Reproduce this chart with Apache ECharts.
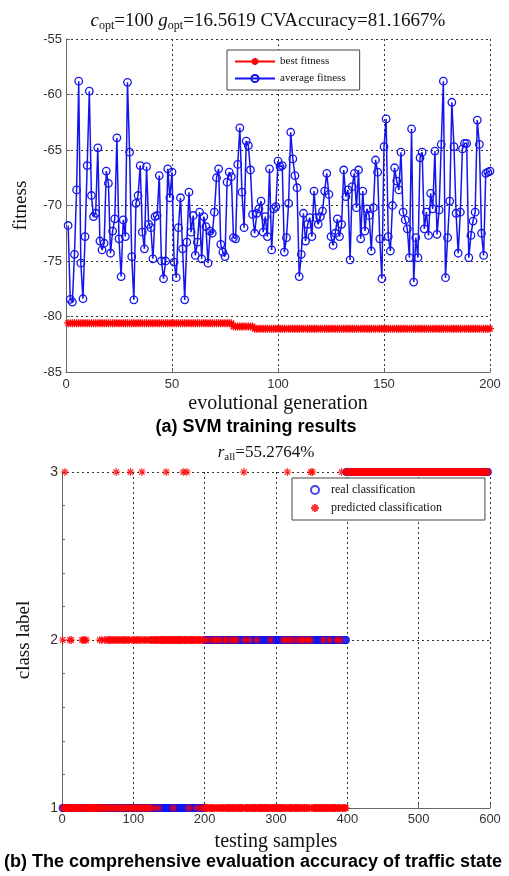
<!DOCTYPE html>
<html>
<head>
<meta charset="utf-8">
<script src="https://cdn.jsdelivr.net/npm/echarts@6/dist/echarts.min.js"></script>
<style>
html,body{margin:0;padding:0;background:#fff;}
#chart{width:509px;height:876px;}
</style>
</head>
<body>
<div id="chart"></div>
<script>
// ---------- DATA ----------
// (a) average fitness per generation 1..200
const avgFitness = [
-71.8,-78.45,-78.7,-74.4,-68.6,-58.8,-75.2,-78.4,-72.8,-66.4,
-59.7,-69.1,-71.0,-70.7,-64.8,-73.2,-74.0,-73.4,-66.9,-68.0,
-74.3,-72.3,-71.2,-63.9,-73.0,-76.4,-71.3,-72.8,-58.9,-65.2,
-74.6,-78.5,-69.8,-69.1,-66.4,-72.4,-73.9,-66.5,-71.7,-72.0,
-74.8,-71.0,-70.9,-67.3,-75.0,-76.6,-75.0,-66.7,-69.3,-67.0,
-75.1,-76.5,-72.0,-69.3,-73.9,-78.5,-73.3,-68.8,-72.4,-70.9,
-74.5,-73.3,-70.6,-74.8,-71.0,-71.9,-75.2,-72.3,-72.5,-70.6,
-67.5,-66.7,-73.5,-74.2,-74.6,-67.9,-67.0,-67.4,-72.9,-73.0,
-66.3,-63.0,-68.8,-72.0,-64.2,-64.6,-66.8,-70.8,-72.5,-70.7,
-70.3,-69.6,-72.4,-71.0,-72.8,-66.7,-74.0,-70.3,-70.1,-66.0,
-66.5,-66.4,-74.2,-72.9,-69.8,-63.4,-65.8,-67.3,-68.4,-76.4,
-74.4,-70.7,-73.2,-71.7,-71.1,-72.8,-68.7,-71.1,-71.7,-71.0,
-70.5,-68.7,-67.1,-69.0,-72.8,-73.6,-72.5,-71.2,-72.8,-71.7,
-66.8,-69.2,-68.6,-74.9,-68.3,-67.1,-70.2,-66.8,-73.0,-68.7,
-72.3,-70.3,-70.9,-74.1,-70.2,-65.9,-67.0,-73.0,-76.6,-64.7,
-62.2,-72.8,-74.1,-70.0,-66.6,-67.8,-68.6,-65.2,-70.6,-71.3,
-72.1,-74.7,-63.1,-76.9,-72.9,-74.7,-65.7,-65.2,-72.1,-70.6,
-72.7,-68.9,-70.3,-65.1,-72.6,-70.4,-64.5,-58.8,-76.5,-72.9,
-69.6,-60.7,-64.7,-70.7,-74.3,-70.6,-64.9,-64.4,-64.4,-74.7,
-72.7,-71.4,-70.6,-62.3,-64.5,-72.5,-74.5,-67.1,-67.0,-66.9
];
// (a) best fitness per generation 1..200
const bestFitness = [
-80.6,-80.6,-80.6,-80.6,-80.6,-80.6,-80.6,-80.6,-80.6,-80.6,
-80.6,-80.6,-80.6,-80.6,-80.6,-80.6,-80.6,-80.6,-80.6,-80.6,
-80.6,-80.6,-80.6,-80.6,-80.6,-80.6,-80.6,-80.6,-80.6,-80.6,
-80.6,-80.6,-80.6,-80.6,-80.6,-80.6,-80.6,-80.6,-80.6,-80.6,
-80.6,-80.6,-80.6,-80.6,-80.6,-80.6,-80.6,-80.6,-80.6,-80.6,
-80.6,-80.6,-80.6,-80.6,-80.6,-80.6,-80.6,-80.6,-80.6,-80.6,
-80.6,-80.6,-80.6,-80.6,-80.6,-80.6,-80.6,-80.6,-80.6,-80.6,
-80.6,-80.6,-80.6,-80.6,-80.6,-80.6,-80.6,-80.6,-80.9,-80.9,
-80.9,-80.9,-80.9,-80.9,-80.9,-80.9,-80.9,-80.9,-81.1,-81.1,
-81.1,-81.1,-81.1,-81.1,-81.1,-81.1,-81.1,-81.1,-81.1,-81.1,
-81.1,-81.1,-81.1,-81.1,-81.1,-81.1,-81.1,-81.1,-81.1,-81.1,
-81.1,-81.1,-81.1,-81.1,-81.1,-81.1,-81.1,-81.1,-81.1,-81.1,
-81.1,-81.1,-81.1,-81.1,-81.1,-81.1,-81.1,-81.1,-81.1,-81.1,
-81.1,-81.1,-81.1,-81.1,-81.1,-81.1,-81.1,-81.1,-81.1,-81.1,
-81.1,-81.1,-81.1,-81.1,-81.1,-81.1,-81.1,-81.1,-81.1,-81.1,
-81.1,-81.1,-81.1,-81.1,-81.1,-81.1,-81.1,-81.1,-81.1,-81.1,
-81.1,-81.1,-81.1,-81.1,-81.1,-81.1,-81.1,-81.1,-81.1,-81.1,
-81.1,-81.1,-81.1,-81.1,-81.1,-81.1,-81.1,-81.1,-81.1,-81.1,
-81.1,-81.1,-81.1,-81.1,-81.1,-81.1,-81.1,-81.1,-81.1,-81.1,
-81.1,-81.1,-81.1,-81.1,-81.1,-81.1,-81.1,-81.1,-81.1,-81.1
];
const genTicks = [0, 50, 100, 150, 200];
const fitTicks = [-85, -80, -75, -70, -65, -60, -55];

// (b) real classes as runs [firstSample, lastSample, class]
const realClassRuns = [[1, 199, 1], [200, 398, 2], [399, 597, 3]];
// (b) predicted class per sample, samples 1..199
const predictedA =
 "2113111111" + "2121111111" + "1111111212" + "1212111111" + "1111111111" +
 "1121121112" + "1121212212" + "1221232121" + "2121221212" + "2122131212" +
 "1212212121" + "2312121221" + "1212222122" + "2222122222" + "2222232222" +
 "2222212222" + "2222222223" + "2222322122" + "2222222212" + "222221222";
// samples 200..398
const predictedB =
 "1111121111" + "1121121121" + "1121111121" + "1211111121" + "1211121111" +
 "1111132111" + "1112111111" + "1112111111" + "1111111111" + "1121111111" +
 "1111111111" + "2111213121" + "1111211111" + "1211121121" + "1121121123" +
 "1311111111" + "1111112111" + "1111121111" + "1111121111" + "213111111";
// samples 399..597
const predictedC =
 "3333333333" + "3333333333" + "3333333333" + "3333333333" + "3333333333" +
 "3333333333" + "3333333333" + "3333333333" + "3333333333" + "3333333333" +
 "3333333333" + "3333333333" + "3333333333" + "3333333333" + "3333333333" +
 "3333333333" + "3333333333" + "3333333333" + "3333333333" + "333333333";
const sampleTicks = [0, 100, 200, 300, 400, 500, 600];
const classTicks = [1, 2, 3];

// ---------- BUILD ----------
const bestData = bestFitness.map((v, i) => [i + 1, v]);
const avgData = avgFitness.map((v, i) => [i + 1, v]);
const realData = [];
realClassRuns.forEach(r => { for (let s = r[0]; s <= r[1]; s++) realData.push([s, r[2]]); });
const predStr = predictedA + predictedB + predictedC;
const predData = [];
for (let i = 0; i < predStr.length; i++) predData.push([i + 1, Number(predStr[i])]);

const SERIF = '"Liberation Serif","Times New Roman",serif';
const SANS = '"Liberation Sans",Arial,sans-serif';
const STAR = 'path://M0,5L10,5M5,0L5,10M1.6,1.6L8.4,8.4M8.4,1.6L1.6,8.4';
const RED = '#ff0000';
const BLUE = '#1414ec';
const gridLine = { show: true, lineStyle: { color: '#333', type: [2, 3], width: 1 } };
const axisLine = { show: true, onZero: false, lineStyle: { color: '#666', width: 1 } };
const tickLbl = { color: '#333', fontFamily: SANS, fontSize: 13 };

const chart = echarts.init(document.getElementById('chart'), null, { renderer: 'canvas' });
chart.setOption({
  animation: false,
  backgroundColor: '#fff',
  grid: [
    { left: 66, top: 39, width: 424, height: 333 },
    { left: 62, top: 472, width: 428, height: 336 }
  ],
  xAxis: [
    { type: 'value', gridIndex: 0, min: genTicks[0], max: genTicks[genTicks.length - 1], interval: 50,
      axisLine, axisTick: { inside: true, length: 4, lineStyle: { color: '#666' } },
      axisLabel: Object.assign({ margin: 6 }, tickLbl), splitLine: gridLine,
      name: 'evolutional generation', nameLocation: 'middle', nameGap: 22,
      nameTextStyle: { fontFamily: SERIF, fontSize: 20, color: '#111' } },
    { type: 'value', gridIndex: 1, min: sampleTicks[0], max: sampleTicks[sampleTicks.length - 1], interval: 100,
      axisLine, axisTick: { inside: true, length: 4, lineStyle: { color: '#666' } },
      axisLabel: Object.assign({ margin: 5 }, tickLbl), splitLine: gridLine,
      name: 'testing samples', nameLocation: 'middle', nameGap: 24,
      nameTextStyle: { fontFamily: SERIF, fontSize: 20, color: '#111' } }
  ],
  yAxis: [
    { type: 'value', gridIndex: 0, min: fitTicks[0], max: fitTicks[fitTicks.length - 1], interval: 5,
      axisLine, axisTick: { inside: true, length: 4, lineStyle: { color: '#666' } },
      axisLabel: Object.assign({ margin: 4 }, tickLbl), splitLine: gridLine,
      name: 'fitness', nameLocation: 'middle', nameGap: 35,
      nameTextStyle: { fontFamily: SERIF, fontSize: 19, color: '#111' } },
    { type: 'value', gridIndex: 1, min: classTicks[0], max: classTicks[classTicks.length - 1], interval: 1,
      axisLine, axisTick: { inside: true, length: 4, lineStyle: { color: '#666' } },
      minorTick: { show: true, splitNumber: 5, length: 3, lineStyle: { color: '#666' } },
      axisLabel: { margin: 4, fontSize: 14, color: '#333', fontFamily: SANS }, splitLine: gridLine,
      name: 'class label', nameLocation: 'middle', nameGap: 28,
      nameTextStyle: { fontFamily: SERIF, fontSize: 19, color: '#111' } }
  ],
  legend: [
    { left: 227, top: 50, orient: 'vertical', itemGap: 6, itemWidth: 40, itemHeight: 9,
      padding: [6, 14, 6, 7], borderColor: '#444', borderWidth: 1, backgroundColor: '#fff',
      textStyle: { fontFamily: SERIF, fontSize: 11, color: '#111' },
      data: ['best fitness', 'average fitness'] },
    { left: 292, top: 478, orient: 'vertical', itemGap: 6, itemWidth: 22, itemHeight: 8,
      padding: [6, 43, 6, 18], borderColor: '#444', borderWidth: 1, backgroundColor: '#fff',
      textStyle: { fontFamily: SERIF, fontSize: 12, color: '#111' },
      data: ['real classification', 'predicted classification'] }
  ],
  series: [
    { name: 'best fitness', type: 'line', xAxisIndex: 0, yAxisIndex: 0, data: bestData,
      symbol: STAR, symbolSize: 8, showAllSymbol: true,
      lineStyle: { color: RED, width: 1.5 },
      itemStyle: { color: RED, borderColor: RED, borderWidth: 1.3 }, z: 3 },
    { name: 'average fitness', type: 'line', xAxisIndex: 0, yAxisIndex: 0, data: avgData,
      symbol: 'circle', symbolSize: 7.5, showAllSymbol: true,
      lineStyle: { color: BLUE, width: 1.5 },
      itemStyle: { color: 'rgba(0,0,0,0)', borderColor: BLUE, borderWidth: 1.3 }, z: 4 },
    { name: 'real classification', type: 'scatter', xAxisIndex: 1, yAxisIndex: 1, data: realData,
      symbol: 'circle', symbolSize: 7,
      itemStyle: { color: 'rgba(0,0,0,0)', borderColor: BLUE, borderWidth: 1.2 }, z: 3 },
    { name: 'predicted classification', type: 'scatter', xAxisIndex: 1, yAxisIndex: 1, data: predData,
      symbol: STAR, symbolSize: 8,
      itemStyle: { color: RED, borderColor: RED, borderWidth: 1.2 }, z: 4 }
  ],
  graphic: [
    { type: 'text', x: 268, y: 21, z: 10,
      style: { text: '{i|c}{s|opt}{n|=100 }{i|g}{s|opt}{n|=16.5619 CVAccuracy=81.1667%}',
        align: 'center', verticalAlign: 'middle',
        rich: {
          n: { fontFamily: SERIF, fontSize: 19, fill: '#111' },
          i: { fontFamily: SERIF, fontSize: 19, fontStyle: 'italic', fill: '#111' },
          s: { fontFamily: SERIF, fontSize: 12, fill: '#111', padding: [9, 0, 0, 0] }
        } } },
    { type: 'text', x: 256, y: 427, z: 10,
      style: { text: '(a) SVM training results', align: 'center', verticalAlign: 'middle',
        font: 'bold 18px "Liberation Sans", Arial, sans-serif', fill: '#000' } },
    { type: 'text', x: 266, y: 453, z: 10,
      style: { text: '{i|r}{s|all}{n|=55.2764%}', align: 'center', verticalAlign: 'middle',
        rich: {
          n: { fontFamily: SERIF, fontSize: 17, fill: '#111' },
          i: { fontFamily: SERIF, fontSize: 17, fontStyle: 'italic', fill: '#111' },
          s: { fontFamily: SERIF, fontSize: 11, fill: '#111', padding: [8, 0, 0, 0] }
        } } },
    { type: 'text', x: 253, y: 862, z: 10,
      style: { text: '(b) The comprehensive evaluation accuracy of traffic state', align: 'center', verticalAlign: 'middle',
        font: 'bold 18px "Liberation Sans", Arial, sans-serif', fill: '#000' } }
  ]
});
</script>
</body>
</html>
